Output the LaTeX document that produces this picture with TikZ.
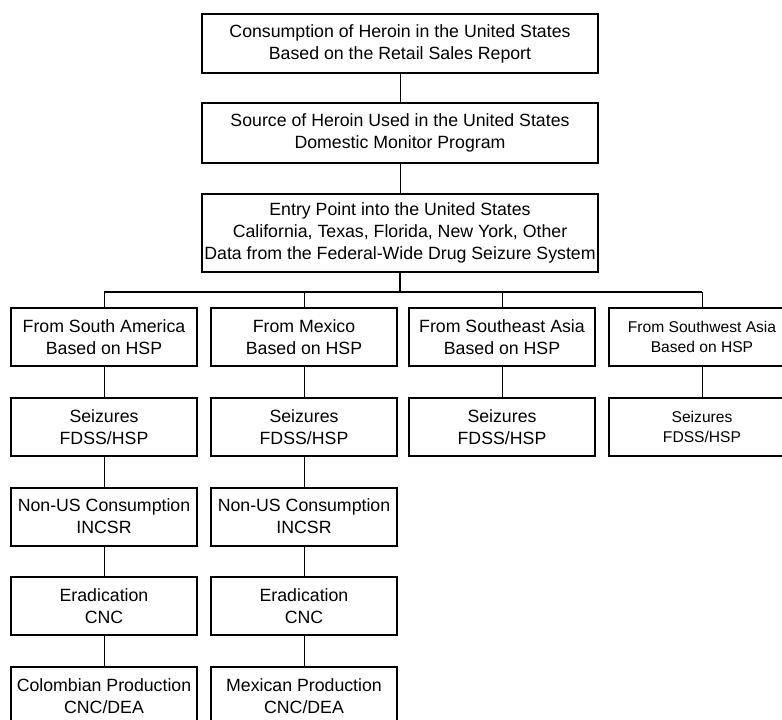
\documentclass[tikz,border=0pt]{standalone}
\usepackage{fontspec}
\setmainfont{Liberation Sans}
\usepackage{tikz}
\usetikzlibrary{positioning}

\begin{document}
\begin{tikzpicture}[x=0.75pt,y=-0.75pt,
  topbox/.style={rectangle,draw,line width=1.5pt,minimum width=297pt,minimum height=44.5pt,align=center,inner sep=0pt,font=\fontsize{13.3}{16.5}\selectfont},
  entrybox/.style={topbox,minimum height=58.5pt},
  colbox/.style={rectangle,draw,line width=1.5pt,minimum width=139pt,minimum height=43.5pt,align=center,inner sep=0pt,font=\fontsize{13.3}{16.5}\selectfont},
  smallbox/.style={colbox,font=\fontsize{11.7}{14.5}\selectfont},
  link/.style={line width=0.75pt},
  bus/.style={line width=1.5pt},
]
\useasboundingbox (0,0) rectangle (782,719);
\clip (0,0) rectangle (782,719);

\node[topbox] (consumption) at (400,43.5) {Consumption of Heroin in the United States\\Based on the Retail Sales Report};
\node[topbox] (source) at (400,133) {Source of Heroin Used in the United States\\Domestic Monitor Program};
\node[entrybox] (entry) at (400,233) {Entry Point into the United States\\California, Texas, Florida, New York, Other\\Data from the Federal-Wide Drug Seizure System};
\coordinate (fork) at (400,292);

% regions
\node[colbox] (samerica) at (104,337) {From South America\\Based on HSP};
\node[colbox] (mexico) at (304,337) {From Mexico\\Based on HSP};
\node[colbox] (seasia) at (502,337) {From Southeast Asia\\Based on HSP};
\node[smallbox] (swasia) at (702,337) {From Southwest Asia\\Based on HSP};

\node[colbox] (saseiz) at (104,427) {Seizures\\FDSS/HSP};
\node[colbox] (mxseiz) at (304,427) {Seizures\\FDSS/HSP};
\node[colbox] (seseiz) at (502,427) {Seizures\\FDSS/HSP};
\node[smallbox] (swseiz) at (702,427) {Seizures\\FDSS/HSP};

\node[colbox] (sanonus) at (104,516.5) {Non-US Consumption\\INCSR};
\node[colbox] (mxnonus) at (304,516.5) {Non-US Consumption\\INCSR};
\node[colbox] (saerad) at (104,606) {Eradication\\CNC};
\node[colbox] (mxerad) at (304,606) {Eradication\\CNC};
\node[colbox] (saprod) at (104,696) {Colombian Production\\CNC/DEA};
\node[colbox] (mxprod) at (304,696) {Mexican Production\\CNC/DEA};

\draw[link] (consumption) -- (source);
\draw[link] (source) -- (entry);
\draw[bus] (entry) -- (fork);
\draw[bus] (samerica.north |- fork) -- (swasia.north |- fork);
\foreach \region in {samerica,mexico,seasia,swasia}
  \draw[link] (\region.north |- fork) -- (\region);

\draw[link] (samerica) -- (saseiz) -- (sanonus) -- (saerad) -- (saprod);
\draw[link] (mexico) -- (mxseiz) -- (mxnonus) -- (mxerad) -- (mxprod);
\draw[link] (seasia) -- (seseiz);
\draw[link] (swasia) -- (swseiz);
\end{tikzpicture}
\end{document}
